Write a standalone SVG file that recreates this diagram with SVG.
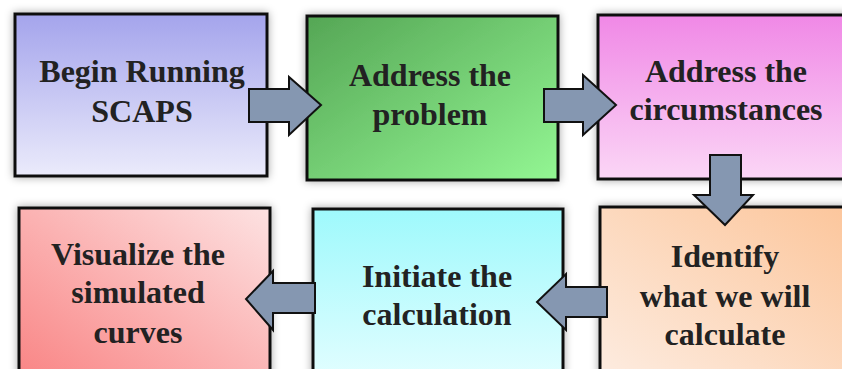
<svg xmlns="http://www.w3.org/2000/svg" width="842" height="369" viewBox="0 0 842 369">
<style>
.box{stroke:#111;stroke-width:3;filter:url(#sh)}
.arr{fill:#8597b1;stroke:#111;stroke-width:2;stroke-linejoin:miter}
</style>
<defs>
<filter id="sh" x="-10%" y="-10%" width="120%" height="120%">
<feDropShadow dx="0" dy="0" stdDeviation="4" flood-color="#000" flood-opacity="0.35"/>
</filter>
<linearGradient id="g1" x1="0" y1="0" x2="0" y2="1"><stop offset="0" stop-color="#a4a4ec"/><stop offset="1" stop-color="#ebebfb"/></linearGradient>
<linearGradient id="g2" x1="0" y1="0" x2="1" y2="1"><stop offset="0" stop-color="#55a655"/><stop offset="1" stop-color="#93f693"/></linearGradient>
<linearGradient id="g3" x1="0" y1="0" x2="0" y2="1"><stop offset="0" stop-color="#f088e6"/><stop offset="1" stop-color="#fbd6f6"/></linearGradient>
<linearGradient id="g4" x1="0" y1="1" x2="1" y2="0"><stop offset="0" stop-color="#f98282"/><stop offset="1" stop-color="#fde2e2"/></linearGradient>
<linearGradient id="g5" x1="0" y1="0" x2="0" y2="1"><stop offset="0" stop-color="#9ef9fc"/><stop offset="1" stop-color="#e6feff"/></linearGradient>
<linearGradient id="g6" x1="1" y1="0" x2="0" y2="1"><stop offset="0" stop-color="#fcc59a"/><stop offset="1" stop-color="#fdede2"/></linearGradient>
</defs>
<rect width="842" height="369" fill="#ffffff"/>
<g id="n1"><rect class="box" x="15" y="14" width="252" height="162" fill="url(#g1)"/>
<text font-family="Liberation Serif" font-weight="bold" font-size="32" fill="#222" text-anchor="middle" x="142" y="82">Begin Running</text>
<text font-family="Liberation Serif" font-weight="bold" font-size="32" fill="#222" text-anchor="middle" x="142" y="122">SCAPS</text></g>
<g id="n2"><rect class="box" x="307" y="16" width="251" height="164" fill="url(#g2)"/>
<text font-family="Liberation Serif" font-weight="bold" font-size="32" fill="#222" text-anchor="middle" x="430" y="86">Address the</text>
<text font-family="Liberation Serif" font-weight="bold" font-size="32" fill="#222" text-anchor="middle" x="430" y="125">problem</text></g>
<g id="n3"><rect class="box" x="598" y="15" width="260" height="164" fill="url(#g3)"/>
<text font-family="Liberation Serif" font-weight="bold" font-size="32" fill="#222" text-anchor="middle" x="726" y="82">Address the</text>
<text font-family="Liberation Serif" font-weight="bold" font-size="32" fill="#222" text-anchor="middle" x="726" y="120">circumstances</text></g>
<g id="n4"><rect class="box" x="19" y="208" width="251" height="180" fill="url(#g4)"/>
<text font-family="Liberation Serif" font-weight="bold" font-size="32" fill="#222" text-anchor="middle" x="138" y="265">Visualize the</text>
<text font-family="Liberation Serif" font-weight="bold" font-size="32" fill="#222" text-anchor="middle" x="138" y="303">simulated</text>
<text font-family="Liberation Serif" font-weight="bold" font-size="32" fill="#222" text-anchor="middle" x="138" y="343">curves</text></g>
<g id="n5"><rect class="box" x="313" y="209" width="250" height="180" fill="url(#g5)"/>
<text font-family="Liberation Serif" font-weight="bold" font-size="32" fill="#222" text-anchor="middle" x="437" y="287">Initiate the</text>
<text font-family="Liberation Serif" font-weight="bold" font-size="32" fill="#222" text-anchor="middle" x="437" y="325">calculation</text></g>
<g id="n6"><rect class="box" x="600" y="207" width="260" height="180" fill="url(#g6)"/>
<text font-family="Liberation Serif" font-weight="bold" font-size="32" fill="#222" text-anchor="middle" x="725" y="267">Identify</text>
<text font-family="Liberation Serif" font-weight="bold" font-size="32" fill="#222" text-anchor="middle" x="725" y="307">what we will</text>
<text font-family="Liberation Serif" font-weight="bold" font-size="32" fill="#222" text-anchor="middle" x="725" y="345">calculate</text></g>
<g id="connectors">
<polygon class="arr" points="249,89 289,89 289,77 321,105 289,135 289,122 249,122"/>
<polygon class="arr" points="544,89 583,89 583,75 616,105 583,135 583,122 544,122"/>
<polygon class="arr" points="710,155 741,155 741,195 753,195 725,225 694,195 710,195"/>
<polygon class="arr" points="607,287 566,287 566,274 537,302 566,330 566,317 607,317"/>
<polygon class="arr" points="315,283 273,283 273,271 246,299 273,330 273,313 315,313"/>
</g>
</svg>
